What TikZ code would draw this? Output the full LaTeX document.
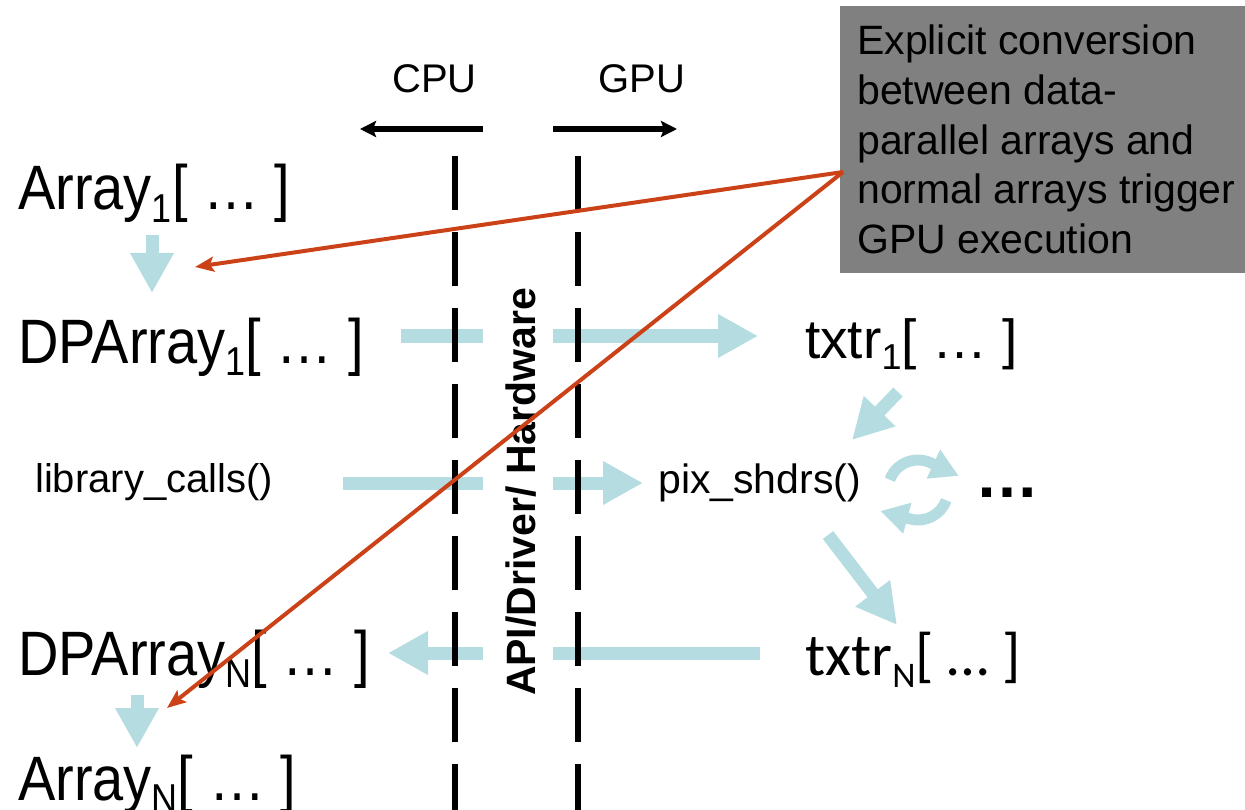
\documentclass[tikz,border=0pt]{standalone}
\usepackage{fontspec}
\usepackage{graphicx}
\setmainfont{Liberation Sans}
\newfontfamily\calibrilike{Carlito}
\usetikzlibrary{arrows.meta}

\definecolor{flow}{HTML}{B5DDE1}
\definecolor{callred}{HTML}{CC4218}
\definecolor{notegray}{HTML}{808080}

% large array labels, slightly stretched vertically
\newcommand\bigtext[1]{\scalebox{1}[1.12]{\fontsize{56}{60}\selectfont #1}}
\newcommand\lowsub[1]{\raisebox{-0.2em}{\fontsize{36}{40}\selectfont #1}}

\begin{document}
\begin{tikzpicture}[x=1pt,y=-1pt,
  lbl/.style={inner sep=0pt, anchor=base west},
  flowbar/.style={draw=flow, line width=13pt},
  flowarrow/.style={flowbar, -{Triangle[length=40pt,width=41pt]}},
  cyclearrow/.style={draw=flow, line width=11pt, -{Triangle[length=28pt,width=30pt]}},
  divider/.style={line width=6.5pt, dash pattern=on 54pt off 22pt},
  sidearrow/.style={line width=5.5pt, -{Stealth[length=16pt,width=16pt,inset=3pt]}},
  callout/.style={draw=callred, line width=4pt, -{Stealth[length=19pt,width=15pt,inset=4pt]}},
  notebox/.style={fill=notegray, inner sep=0pt, anchor=north west}
]
\useasboundingbox (0,0) rectangle (1245,810);

% note box and its text
\node[notebox, minimum width=405pt, minimum height=267pt] (note) at (840,6) {};
\begin{scope}[every node/.style={lbl, font=\fontsize{41}{49}\selectfont}]
  \node (note1) at (857,55)  {Explicit conversion};
  \node (note2) at (857,105) {between data-};
  \node (note3) at (857,155) {parallel arrays and};
  \node (note4) at (857,204) {normal arrays trigger};
  \node (note5) at (857,254) {GPU execution};
\end{scope}

% CPU / GPU side headers
\node[lbl, font=\fontsize{40}{48}\selectfont] (cpu) at (392,93) {CPU};
\node[lbl, font=\fontsize{40}{48}\selectfont] (gpu) at (598,93) {GPU};
\coordinate (cpuFrom) at (483,129); \coordinate (cpuTo) at (360,129);
\coordinate (gpuFrom) at (553,129); \coordinate (gpuTo) at (677,129);
\draw[sidearrow] (cpuFrom) -- (cpuTo);
\draw[sidearrow] (gpuFrom) -- (gpuTo);

% labels
\node[lbl] (arr1) at (18,210) {\bigtext{Array\lowsub{1}[ … ]}};
\node[lbl] (dp1)  at (18,363) {\bigtext{DPArray\lowsub{1}[ … ]}};
\node[lbl, font=\fontsize{40}{48}\selectfont] (libc) at (35,492) {library\_calls()};
\node[lbl] (dpN)  at (18,675) {\bigtext{DPArray\lowsub{N}[ … ]}};
\node[lbl] (arrN) at (18,800) {\bigtext{Array\lowsub{N}[ … ]}};
\node[lbl, font=\fontsize{55}{60}\selectfont] (tx1) at (805,358) {txtr\lowsub{1}[ … ]};
\node[lbl, font=\fontsize{41}{48}\selectfont] (pix) at (658,493) {pix\_shdrs()};
\node[lbl, font=\fontsize{60}{64}\selectfont\calibrilike] (txN) at (805,675) {txtr\lowsub{N}[ … ]};
\node[lbl, font=\fontsize{64}{70}\selectfont\bfseries] (more) at (975,497) {…};

% data flow arrows
\coordinate (a1) at (152,235); \coordinate (a2) at (152,293);
\draw[flowarrow] (a1) -- (a2);
\coordinate (b1) at (137,695); \coordinate (b2) at (137,748);
\draw[flowarrow] (b1) -- (b2);

\coordinate (r1a) at (401,336); \coordinate (r1b) at (483,336);
\coordinate (r1c) at (553,336); \coordinate (r1d) at (758,336);
\draw[flowbar] (r1a) -- (r1b);
\draw[flowarrow] (r1c) -- (r1d);

\coordinate (r2a) at (343,483); \coordinate (r2b) at (483,483);
\coordinate (r2c) at (553,483); \coordinate (r2d) at (643,483);
\draw[flowbar] (r2a) -- (r2b);
\draw[flowarrow] (r2c) -- (r2d);

\coordinate (r3a) at (760,653); \coordinate (r3b) at (553,653);
\coordinate (r3c) at (483,653); \coordinate (r3d) at (388,653);
\draw[flowbar] (r3a) -- (r3b);
\draw[flowarrow] (r3c) -- (r3d);

\coordinate (d1a) at (898,392); \coordinate (d1b) at (852,440);
\draw[flowarrow] (d1a) -- (d1b);
\coordinate (d2a) at (828,535); \coordinate (d2b) at (897,625);
\draw[flowarrow] (d2a) -- (d2b);

% iteration loop around the shaders
\coordinate (loop) at (918,490);
\draw[cyclearrow] (loop) ++(200:30) arc[start angle=200, end angle=295, radius=30] -- ++(25:31);
\draw[cyclearrow] (loop) ++(20:30) arc[start angle=20, end angle=105, radius=30] -- ++(195:31);

% CPU | GPU boundary
\coordinate (cpuTop) at (455,156); \coordinate (cpuBot) at (455,812);
\coordinate (gpuTop) at (578,156); \coordinate (gpuBot) at (578,812);
\draw[divider] (cpuTop) -- (cpuBot);
\draw[divider] (gpuTop) -- (gpuBot);
\node[inner sep=0pt, anchor=base, rotate=90, font=\fontsize{41}{48}\selectfont\bfseries] (api) at (535,492) {API/Driver/ Hardware};

% callout arrows
\coordinate (notePt) at (843,172);
\coordinate (toDP1) at (195,267);
\coordinate (toArrN) at (167,708);
\draw[callout] (notePt) -- (toDP1);
\draw[callout] (notePt) -- (toArrN);
\end{tikzpicture}
\end{document}
